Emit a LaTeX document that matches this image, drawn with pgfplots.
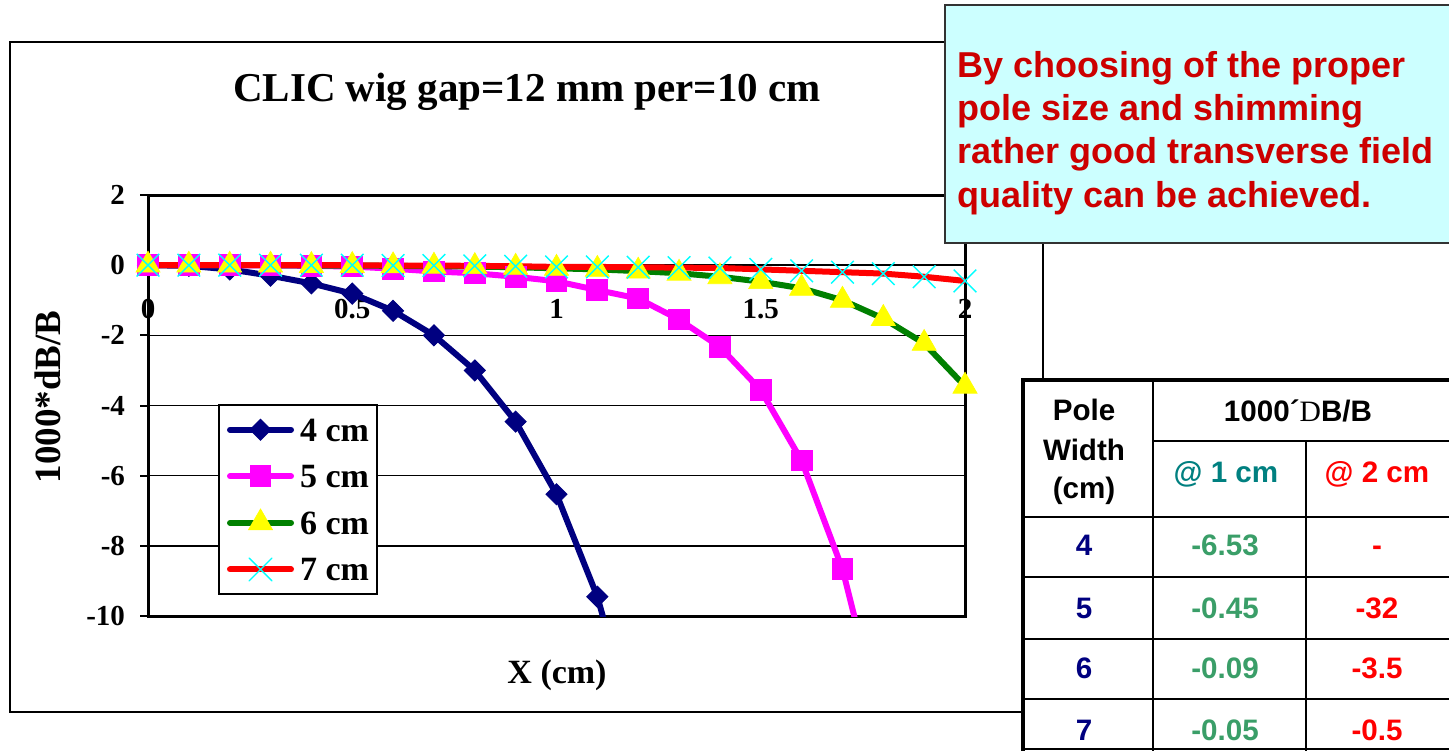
\documentclass[border=0pt]{standalone}
\usepackage{fontspec}
\setmainfont{Liberation Serif}
\newfontfamily\arial{Liberation Sans}
\usepackage{pgfplots}
\pgfplotsset{compat=1.18}
\usepackage{pgfplotstable}

\definecolor{navyc}{HTML}{000080}
\definecolor{magc}{HTML}{FF00FF}
\definecolor{greenc}{HTML}{008000}
\definecolor{yelc}{HTML}{FFFF00}
\definecolor{redc}{HTML}{FF0000}
\definecolor{cyanc}{HTML}{00FFFF}
\definecolor{callout}{HTML}{CCFFFF}
\definecolor{callred}{HTML}{CC0000}
\definecolor{tealc}{HTML}{008080}
\definecolor{valgreen}{HTML}{3A9E68}

\pgfplotstableread{
x y
0 0
0.1 -0.02
0.2 -0.12
0.3 -0.30
0.4 -0.52
0.5 -0.81
0.6 -1.30
0.7 -2.00
0.8 -3.00
0.9 -4.46
1.0 -6.53
1.1 -9.45
}\dataA
\pgfplotstableread{
x y
0 0
0.1 0
0.2 0
0.3 -0.01
0.4 -0.02
0.5 -0.04
0.6 -0.10
0.7 -0.18
0.8 -0.23
0.9 -0.33
1.0 -0.46
1.1 -0.71
1.2 -0.95
1.3 -1.55
1.4 -2.33
1.5 -3.56
1.6 -5.57
1.7 -8.66
}\dataB
\pgfplotstableread{
x y
0 0
0.1 0
0.2 0
0.3 0
0.4 -0.01
0.5 -0.01
0.6 -0.02
0.7 -0.03
0.8 -0.04
0.9 -0.06
1.0 -0.09
1.1 -0.12
1.2 -0.17
1.3 -0.23
1.4 -0.33
1.5 -0.47
1.6 -0.66
1.7 -1.00
1.8 -1.52
1.9 -2.23
2.0 -3.45
}\dataC
\pgfplotstableread{
x y
0 0
0.1 0
0.2 0
0.3 0
0.4 0
0.5 0
0.6 -0.01
0.7 -0.01
0.8 -0.02
0.9 -0.03
1.0 -0.05
1.1 -0.05
1.2 -0.06
1.3 -0.07
1.4 -0.08
1.5 -0.12
1.6 -0.16
1.7 -0.20
1.8 -0.24
1.9 -0.33
2.0 -0.45
}\dataD

\begin{document}
\begin{tikzpicture}
\path[use as bounding box] (0pt,0pt) rectangle (724.5pt,-375pt);
\clip (0pt,0pt) rectangle (724.5pt,-375pt);

\begin{scope}[x=0.5pt,y=-0.5pt]
\draw[line width=1pt] (10,42) rectangle (1043,712);
\node[anchor=base, font=\fontsize{20.5}{24}\selectfont\bfseries] at (527,101) {CLIC wig gap=12 mm per=10 cm};
\node[anchor=base, font=\fontsize{17}{20}\selectfont\bfseries] at (557,683) {X (cm)};
\node[anchor=base, rotate=90, font=\fontsize{18.5}{20}\selectfont\bfseries] at (60,397) {1000*dB/B};
\end{scope}

\begin{axis}[
  at={(74pt,-308pt)}, anchor=south west,
  width=408.5pt, height=210.5pt, scale only axis,
  xmin=0, xmax=2, ymin=-10, ymax=2,
  xtick={0,0.5,1,1.5,2}, ytick={-10,-8,...,2},
  ymajorgrids, grid style={black, line width=0.75pt},
  axis line style={line width=1.5pt},
  tick align=outside, major tick length=4pt,
  ytick pos=left,
  ytick style={black, line width=1pt},
  xtick style={draw=none},
  ticklabel style={font=\fontsize{14.5}{14.5}\selectfont\bfseries},
  /pgf/number format/assume math mode=true,
  xticklabel style={yshift=166pt},
  yticklabel style={xshift=-4pt},
  legend cell align=left,
  legend image code/.code={\draw[mark repeat=2,mark phase=2,line cap=round,#1] plot coordinates {(0pt,0pt) (15.25pt,0pt) (30.5pt,0pt)};},
  legend style={at={(0.0857,0.5036)}, anchor=north west, draw=black, line width=1pt,
    font=\fontsize{17}{17}\selectfont\bfseries,
    inner xsep=4pt, inner ysep=3.6pt, row sep=5.8pt,
    nodes={inner sep=0pt, text height=14.5pt, text depth=3pt},
    /tikz/every odd column/.append style={column sep=3pt}},
]
\addplot[navyc, line width=3pt, forget plot] coordinates {(1.1,-9.45) (1.2,-13.6)};
\addplot[magc, line width=3pt, forget plot] coordinates {(1.7,-8.66) (1.8,-13.3)};
\addplot[navyc, line width=3pt, mark=square*, mark size=3.7pt,
  mark options={rotate=45, fill=navyc, draw=navyc, line width=0.5pt}] table {\dataA};
\addplot[magc, line width=3pt, mark=square*, mark size=5.2pt,
  mark options={fill=magc, draw=magc, line width=0.5pt}] table {\dataB};
\addplot[greenc, line width=3pt, mark=triangle*, mark size=7pt,
  mark options={fill=yelc, draw=yelc, line width=0.3pt}] table {\dataC};
\addplot[redc, line width=3pt, mark=x, mark size=8pt,
  mark options={draw=cyanc, line width=0.7pt}] table {\dataD};
\legend{4 cm, 5 cm, 6 cm, 7 cm}
\end{axis}

\begin{scope}[x=0.5pt,y=-0.5pt]
% callout
\draw[line width=1pt, draw=black!80, fill=callout] (945,5) rectangle (1470,243);
\begin{scope}[every node/.style={anchor=base west, inner sep=0pt, text=callred, font=\arial\fontsize{18}{21.6}\selectfont\bfseries}]
\node at (957,77) {By choosing of the proper};
\node at (957,120) {pole size and shimming};
\node at (957,163.5) {rather good transverse field};
\node at (957,207) {quality can be achieved.};
\end{scope}
% table
\fill[white] (1023,380) rectangle (1460,760);
\draw[line width=1pt] (1153,380) -- (1153,760);
\draw[line width=1pt] (1306,441) -- (1306,760);
\draw[line width=1pt] (1153,441) -- (1460,441);
\foreach \yy in {517,577,639,699,749} \draw[line width=1pt] (1023,\yy) -- (1460,\yy);
\draw[line width=1.6pt] (1023,760) -- (1023,380) -- (1460,380);
\begin{scope}[every node/.style={anchor=base, inner sep=0pt, font=\arial\fontsize{14.8}{16}\selectfont\bfseries}]
\node at (1084,420) {Pole};
\node at (1084,460) {Width};
\node at (1084,498) {(cm)};
\node at (1298,421.5) {1000´{\rmfamily\mdseries D}B/B};
\node[text=tealc] at (1226,482.5) {@ 1 cm};
\node[text=redc] at (1377,482.5) {@ 2 cm};
\node[text=navyc] at (1084,555) {4};
\node[text=navyc] at (1084,618) {5};
\node[text=navyc] at (1084,678) {6};
\node[text=navyc] at (1084,740) {7};
\node[text=valgreen] at (1225,555) {-6.53};
\node[text=valgreen] at (1225,618) {-0.45};
\node[text=valgreen] at (1225,678) {-0.09};
\node[text=valgreen] at (1225,740) {-0.05};
\node[text=redc] at (1377,555) {-};
\node[text=redc] at (1377,618) {-32};
\node[text=redc] at (1377,678) {-3.5};
\node[text=redc] at (1377,740) {-0.5};
\end{scope}
\end{scope}
\end{tikzpicture}
\end{document}
